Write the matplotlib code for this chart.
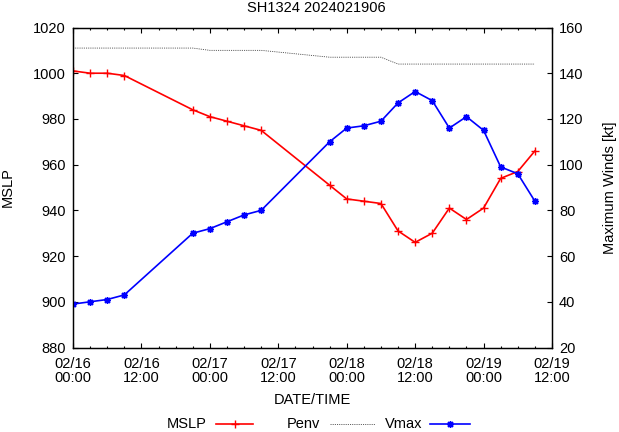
#!/usr/bin/env python3
"""SH1324 intensity chart: MSLP / Penv on the left axis, Vmax on the right."""

import matplotlib
matplotlib.use("Agg")
import matplotlib.dates as mdates
import matplotlib.pyplot as plt
from matplotlib.lines import Line2D
import pandas as pd

# --- data ---
times = ["2024-02-16 00:00", "2024-02-16 03:00", "2024-02-16 06:00", "2024-02-16 09:00",
         "2024-02-16 21:00", "2024-02-17 00:00", "2024-02-17 03:00", "2024-02-17 06:00",
         "2024-02-17 09:00", "2024-02-17 21:00", "2024-02-18 00:00", "2024-02-18 03:00",
         "2024-02-18 06:00", "2024-02-18 09:00", "2024-02-18 12:00", "2024-02-18 15:00",
         "2024-02-18 18:00", "2024-02-18 21:00", "2024-02-19 00:00", "2024-02-19 03:00",
         "2024-02-19 06:00", "2024-02-19 09:00"]
mslp = [1001, 1000, 1000, 999, 984, 981, 979, 977, 975, 951, 945,
        944, 943, 931, 926, 930, 941, 936, 941, 954, 957, 966]
penv = [1011, 1011, 1011, 1011, 1011, 1010, 1010, 1010, 1010, 1007, 1007,
        1007, 1007, 1004, 1004, 1004, 1004, 1004, 1004, 1004, 1004, 1004]
vmax = [39, 40, 41, 43, 70, 72, 75, 78, 80, 110, 116,
        117, 119, 127, 132, 128, 116, 121, 115, 99, 96, 84]

title = "SH1324 2024021906"
x_start, x_end = "2024-02-16 00:00", "2024-02-19 12:00"

W, H = 619, 432
FS = 10.5


def fx(px):
    return px / W


def fy(py):
    return 1 - py / H


def main() -> None:
    plt.rcParams["font.family"] = ["Liberation Sans", "DejaVu Sans"]
    plt.rcParams["font.size"] = FS

    t = pd.to_datetime(times)
    fig = plt.figure(figsize=(W / 100, H / 100), dpi=100)
    ax = fig.add_axes([fx(73), fy(347.5), 479 / W, 320 / H])
    ax2 = ax.twinx()

    star = (8, 2, 0)  # gnuplot-style asterisk
    red = dict(color="#ff0000", lw=1.2, marker="+", ms=5.5, mew=1.0)
    dot = dict(color="#444444", lw=0.6, ls=(0, (1.3, 1.3)))
    blue = dict(color="#0000ff", lw=1.2, marker=star, ms=5, mew=1.0)
    ax.plot(t, mslp, **red)
    ax.plot(t, penv, **dot)
    ax2.plot(t, vmax, **blue)

    ax.set_xlim(pd.Timestamp(x_start), pd.Timestamp(x_end))
    ax.set_ylim(880, 1020)
    ax.set_yticks(range(880, 1021, 20))
    ax2.set_ylim(20, 160)
    ax2.set_yticks(range(20, 161, 20))

    ax.xaxis.set_major_locator(mdates.HourLocator(byhour=[0, 12]))
    ax.xaxis.set_minor_locator(mdates.HourLocator(interval=3))
    ax.xaxis.set_major_formatter(mdates.DateFormatter("%m/%d\n%H:%M"))

    for a in (ax, ax2):
        a.tick_params(which="major", direction="in", length=3.3, width=0.8, colors="black",
                      labelsize=FS, pad=5)
        a.tick_params(which="minor", direction="in", length=1.7, width=0.8)
        for s in a.spines.values():
            s.set_linewidth(0.9)
    ax.tick_params(axis="x", which="both", top=True)
    ax.tick_params(axis="x", pad=6.5)
    for lab in ax.get_xticklabels():
        lab.set_linespacing(1.0)

    ax.set_xlabel("DATE/TIME", labelpad=6)
    ax.set_ylabel("MSLP", va="center")
    ax.yaxis.set_label_coords((8 - 73) / 479, 0.5)
    ax2.set_ylabel("Maximum Winds [kt]", va="center")
    ax2.yaxis.set_label_coords((610 - 73) / 479, 0.5)
    fig.text(fx(316), fy(8), title, ha="center", va="center")

    # gnuplot-style key: text right-aligned, sample to its right
    ky = fy(424)
    key = [("MSLP", 207, 216, 253, red),
           ("Penv", 320, 330, 375, dot),
           ("Vmax", 422, 430, 470, blue)]
    for name, tx, x0, x1, style in key:
        fig.text(fx(tx), ky, name, ha="right", va="center")
        line_style = {k: v for k, v in style.items() if k not in ("marker", "ms", "mew")}
        fig.add_artist(Line2D([fx(x0), fx(x1)], [ky, ky], transform=fig.transFigure,
                              **line_style))
        if "marker" in style:
            fig.add_artist(Line2D([fx((x0 + x1) / 2)], [ky], transform=fig.transFigure,
                                  ls="none", color=style["color"], marker=style["marker"],
                                  ms=style["ms"], mew=style["mew"]))

    fig.savefig("out.png", dpi=100)


if __name__ == "__main__":
    main()
